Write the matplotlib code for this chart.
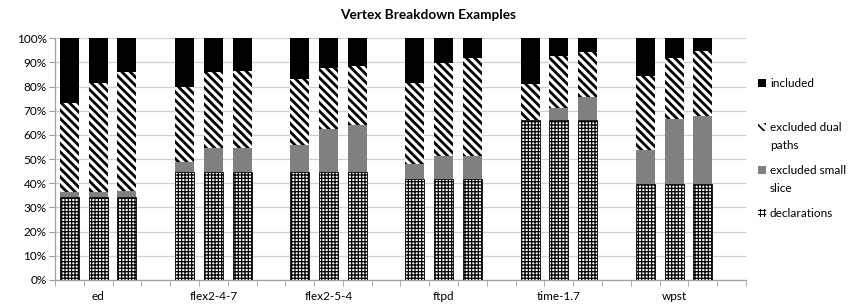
import matplotlib
matplotlib.use("Agg")
import matplotlib.pyplot as plt
from matplotlib.patches import Rectangle
import numpy as np

plt.rcParams['font.family'] = ['Lato', 'DejaVu Sans']
plt.rcParams['hatch.linewidth'] = 0.9

groups = ["ed", "flex2-4-7", "flex2-5-4", "ftpd", "time-1.7", "wpst"]
declarations = [34.5, 34.5, 34.5, 44.8, 44.8, 44.8, 44.8, 44.8, 44.8,
                41.7, 41.7, 41.7, 66.1, 66.1, 66.1, 39.7, 39.7, 39.7]
small_slice = [2.0, 2.0, 2.5, 4.1, 9.7, 9.7, 11.0, 17.7, 19.5,
               6.2, 9.8, 9.8, 0.0, 5.0, 9.5, 14.0, 27.1, 28.3]
dual_paths = [36.9, 45.0, 49.2, 31.1, 31.7, 32.1, 27.5, 25.4, 24.1,
              33.4, 38.3, 40.2, 15.0, 21.5, 18.6, 30.9, 25.2, 26.6]
included = [100 - a - b - c for a, b, c in zip(declarations, small_slice, dual_paths)]
legend_labels = ["included", "excluded dual\npaths", "excluded small\nslice", "declarations"]

x = []
for g in range(len(groups)):
    x += [g * 4 + k for k in range(3)]
x = np.array(x)

W, H = 857, 306
fig = plt.figure(figsize=(W / 100, H / 100), dpi=100)
ax = fig.add_axes([55 / W, (H - 280) / H, (746 - 55) / W, (280 - 38.3) / H])

styles = [
    dict(color='black', edgecolor='black', linewidth=0),
    dict(color='white', edgecolor='black', hatch='\\\\\\\\', linewidth=0),
    dict(color='#808080', edgecolor='#808080', linewidth=0),
    dict(color='white', edgecolor='black', hatch='+++++', linewidth=0.6),
]

w = 0.66
ax.bar(x, declarations, w, zorder=3, **styles[3])
bot = np.array(declarations)
ax.bar(x, small_slice, w, bottom=bot, zorder=3, **styles[2])
bot = bot + np.array(small_slice)
with plt.rc_context({'hatch.linewidth': 2.0}):
    ax.bar(x, dual_paths, w, bottom=bot, zorder=3, **styles[1])
bot = bot + np.array(dual_paths)
ax.bar(x, included, w, bottom=bot, zorder=3, **styles[0])

ax.set_ylim(0, 100)
ax.set_xlim(-0.5, 23.5)
ax.set_yticks(np.arange(0, 101, 10))
ax.set_yticklabels([f"{v}%" for v in range(0, 101, 10)], fontsize=8.5)
ax.yaxis.grid(True, color='#d0d0d0', linewidth=0.9, zorder=0)
ax.set_axisbelow(True)

ax.set_xticks(np.arange(-0.5, 24, 1), minor=True)
ax.set_xticks([g * 4 + 1 for g in range(len(groups))])
ax.set_xticklabels(groups, fontsize=8.5)
ax.tick_params(axis='x', which='major', length=0, pad=8)
ax.tick_params(axis='x', which='minor', length=4, color='#a0a0a0')
ax.tick_params(axis='y', length=4, color='#a0a0a0', pad=2)

for s in ['top', 'right']:
    ax.spines[s].set_visible(False)
for s in ['left', 'bottom']:
    ax.spines[s].set_color('#a0a0a0')
    ax.spines[s].set_linewidth(0.9)

fig.text(428 / W, 1 - 15 / H, "Vertex Breakdown Examples", fontsize=9.8,
         fontweight='bold', ha='center', va='center')

# manual legend (handle aligned with first text line, as in the reference)
ys = [83, 127, 170, 213]
icon_hatch = [None, '\\\\\\\\', None, '++++']
icon_lw = [0.6, 1.2, 0.6, 0.7]
for lab, y, st, hh, lwh in zip(legend_labels, ys, styles, icon_hatch, icon_lw):
    with plt.rc_context({'hatch.linewidth': lwh}):
        r = Rectangle((758 / W, 1 - (y + 4) / H), 8 / W, 8 / H,
                      transform=fig.transFigure, facecolor=st['color'],
                      edgecolor=st['edgecolor'], hatch=hh, linewidth=0)
        fig.add_artist(r)
    fig.text(770 / W, 1 - (y - 5) / H, lab, fontsize=8.5, ha='left', va='top',
             linespacing=1.75)

fig.savefig("out.png", dpi=100)
